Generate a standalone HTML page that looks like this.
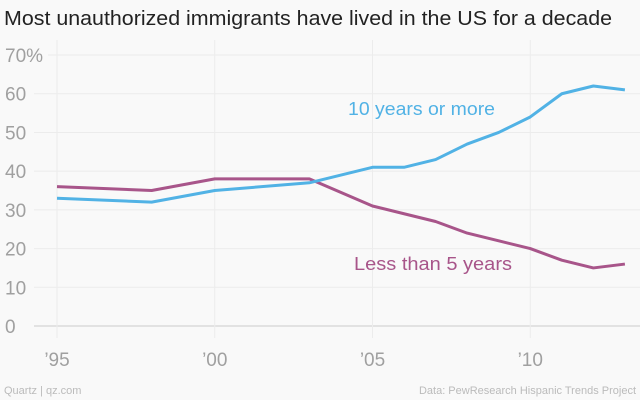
<!DOCTYPE html>
<html><head><meta charset="utf-8"><style>
body{margin:0;background:#f9f9f9;font-family:"Liberation Sans",sans-serif}
svg{display:block}
</style></head><body>
<svg width="640" height="400" id="c">
<rect width="640" height="400" fill="#f9f9f9"/>
<text x="4" y="25" font-size="20" fill="#222" textLength="608" lengthAdjust="spacingAndGlyphs">Most unauthorized immigrants have lived in the US for a decade</text>
<g id="grid"></g><g id="lines"></g>
<text x="348" y="115" font-size="18" fill="#51b2e5" textLength="147" lengthAdjust="spacingAndGlyphs">10 years or more</text>
<text x="354" y="270" font-size="18" fill="#a8558a" textLength="158" lengthAdjust="spacingAndGlyphs">Less than 5 years</text>
<text x="4" y="394" font-size="11" fill="#bbb">Quartz | qz.com</text>
<text x="636" y="394" font-size="11" fill="#bbb" text-anchor="end">Data: PewResearch Hispanic Trends Project</text>
</svg>
<script>
const years=[1995,1998,2000,2003,2005,2006,2007,2008,2009,2010,2011,2012,2013];
const tenPlus=[33,32,35,37,41,41,43,47,50,54,60,62,61];
const lessFive=[36,35,38,38,31,29,27,24,22,20,17,15,16];
const yTicks=[0,10,20,30,40,50,60,70];
const xTicks=[1995,2000,2005,2010];
const xLabels=["’95","’00","’05","’10"];
const ns="http://www.w3.org/2000/svg";
const X=v=>57+(v-1995)*31.55, Y=v=>326-v*3.871;
const grid=document.getElementById('grid'), lines=document.getElementById('lines');
function mk(t,a,p){const e=document.createElementNS(ns,t);for(const k in a)e.setAttribute(k,a[k]);p.appendChild(e);return e;}
yTicks.forEach(t=>{
 const l=mk('line',{x1:t==70?48:34,x2:640,y1:Y(t),y2:Y(t),stroke:t==0?'#ccc':'#ececec','stroke-width':1},grid);
 
 
 const tx=mk('text',{x:5,y:Y(t)+7,'font-size':19,fill:'#a0a0a0'},grid);
 tx.textContent=t==70?'70%':String(t);
 
 
});
xTicks.forEach((t,i)=>{
 const l=mk('line',{x1:X(t),x2:X(t),y1:40,y2:Y(0)+12,stroke:'#ececec'},grid);
 
 
 const tx=mk('text',{x:X(t),y:366,'font-size':19,fill:'#a0a0a0','text-anchor':'middle'},grid);
 tx.textContent=xLabels[i];
 
 
});
function series(vals,col,name){
 const d=vals.map((v,i)=>(i?'L':'M')+X(years[i])+','+Y(v)).join('');
 const p=mk('path',{d:d,fill:'none',stroke:col,'stroke-width':3,'stroke-linejoin':'round'},lines);
 
 
}
series(lessFive,'#a8558a','line-less-than-5-years');
series(tenPlus,'#51b2e5','line-10-years-or-more');
</script>
</body></html>
